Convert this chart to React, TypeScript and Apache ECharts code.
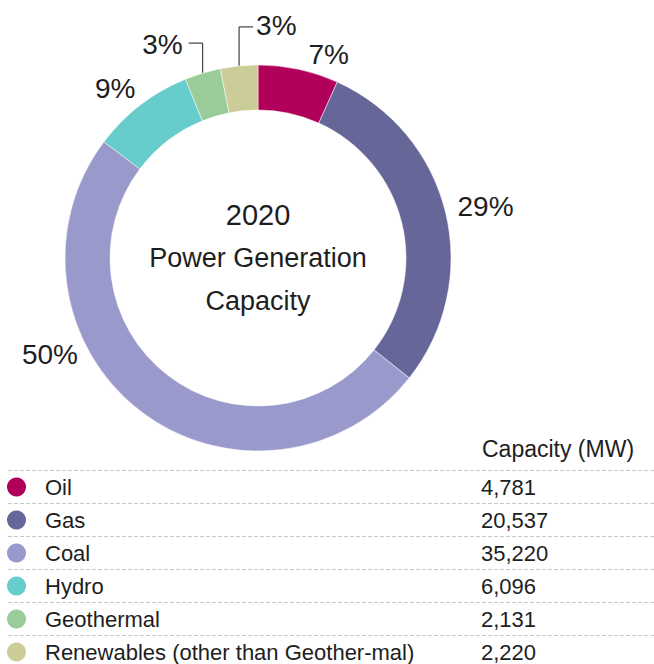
import React, { useEffect, useRef } from "react";
import * as echarts from "echarts";

// ---- data ----
const CATEGORIES = ["Oil", "Gas", "Coal", "Hydro", "Geothermal", "Renewables (other than Geother-mal)"];
const CAPACITY_MW = [4781, 20537, 35220, 6096, 2131, 2220];
const COLORS = ["#B0005A", "#666699", "#9999CC", "#66CCCC", "#99CC99", "#CCCC99"];
const CENTER_LINES = ["2020", "Power Generation", "Capacity"];
const VALUE_HEADER = "Capacity (MW)";

// ---- layout ----
const CX = 258;
const CY = 258;
const R_OUT = 193;
const R_IN = 148;
const FONT = "'Liberation Sans', Arial, sans-serif";
const TEXT = "#1e1e1e";
// label offsets relative to the outer ring point at each slice's mid angle
const LABEL_OFFSETS: { dx: number; dy: number; align: string }[] = [
  { dx: 10, dy: -15, align: "left" },
  { dx: 12, dy: -6, align: "left" },
  { dx: -62, dy: -56, align: "right" },
  { dx: -5, dy: -16, align: "right" },
  { dx: -20, dy: -29, align: "right" },
  { dx: 17, dy: -40, align: "left" },
];
const LEADER_RISE = [0, 0, 0, 0, 30, 39];
const LEADER_RUN = [0, 0, 0, 0, -14, 14];
const ROW_TOP = 470.5;
const ROW_H = 33;

function ringPoint(i: number): [number, number] {
  const total = CAPACITY_MW.reduce((a, b) => a + b, 0);
  let cum = 0;
  for (let k = 0; k < i; k++) cum += CAPACITY_MW[k];
  const mid = ((cum + CAPACITY_MW[i] / 2) / total) * Math.PI * 2;
  return [CX + R_OUT * Math.sin(mid), CY - R_OUT * Math.cos(mid)];
}

export default function App() {
  const ref = useRef<HTMLDivElement>(null);
  useEffect(() => {
    if (!ref.current) return;
    const chart = echarts.init(ref.current, undefined, { renderer: "svg" });
    const valueByName: Record<string, number> = {};
    CATEGORIES.forEach((c, i) => (valueByName[c] = CAPACITY_MW[i]));

    const graphics: any[] = [
      {
        type: "text",
        x: CX,
        y: CY,
        style: {
          text: `{a|${CENTER_LINES[0]}}\n{b|${CENTER_LINES[1]}}\n{b|${CENTER_LINES[2]}}`,
          align: "center",
          verticalAlign: "middle",
          fill: TEXT,
          fontFamily: FONT,
          rich: {
            a: { fontSize: 29, lineHeight: 43, fontFamily: FONT, fill: TEXT, align: "center" },
            b: { fontSize: 27, lineHeight: 43, fontFamily: FONT, fill: TEXT, align: "center" },
          },
        },
      },
      {
        type: "text",
        x: 482,
        y: 449,
        style: {
          text: VALUE_HEADER,
          fontSize: 23,
          fontFamily: FONT,
          fill: TEXT,
          verticalAlign: "middle",
        },
      },
    ];
    for (let k = 0; k < CATEGORIES.length; k++) {
      const y = ROW_TOP + k * ROW_H;
      graphics.push({
        type: "line",
        shape: { x1: 8, y1: y, x2: 654, y2: y },
        style: { stroke: "#c9c9c9", lineWidth: 1, lineDash: [4, 2] },
      });
    }

    chart.setOption({
      animation: false,
      color: COLORS,
      legend: {
        orient: "vertical",
        left: 7,
        top: 476,
        height: 220,
        padding: 0,
        itemWidth: 19,
        itemHeight: 19,
        itemGap: 11,
        icon: "circle",
        selectedMode: false,
        data: CATEGORIES,
        itemStyle: { borderWidth: 0 },
        formatter: (name: string) =>
          `{n|${name}}{v|${valueByName[name].toLocaleString("en-US")}}`,
        textStyle: {
          fontSize: 22,
          fontFamily: FONT,
          color: TEXT,
          rich: {
            n: { width: 436, padding: [0, 0, 0, 14], fontSize: 22, fontFamily: FONT, color: TEXT, lineHeight: 20 },
            v: { fontSize: 22, fontFamily: FONT, color: TEXT, lineHeight: 20 },
          },
        },
      },
      graphic: graphics,
      series: [
        {
          type: "pie",
          center: [CX, CY],
          radius: [R_IN, R_OUT],
          startAngle: 90,
          clockwise: true,
          avoidLabelOverlap: false,
          itemStyle: { borderColor: "#ffffff", borderWidth: 0.5 },
          label: {
            show: true,
            position: "outside",
            fontSize: 28,
            fontFamily: FONT,
            color: TEXT,
            formatter: (p: any) => `${Math.round(p.percent)}%`,
          },
          labelLine: { show: false },
          emphasis: { disabled: true },
          labelLayout: (params: any) => {
            const i = params.dataIndex;
            const [px, py] = ringPoint(i);
            const off = LABEL_OFFSETS[i];
            const res: any = {
              x: px + off.dx,
              y: py + off.dy,
              align: off.align,
              verticalAlign: "middle",
            };
            if (LEADER_RISE[i] > 0) {
              res.labelLinePoints = [
                [px, py],
                [px, py - LEADER_RISE[i]],
                [px + LEADER_RUN[i], py - LEADER_RISE[i]],
              ];
            }
            return res;
          },
          data: CATEGORIES.map((name, i) => ({
            name,
            value: CAPACITY_MW[i],
            labelLine:
              LEADER_RISE[i] > 0
                ? { show: true, lineStyle: { color: TEXT, width: 1 } }
                : { show: false },
          })),
        },
      ],
    });
    return () => chart.dispose();
  }, []);

  return (
    <div
      ref={ref}
      style={{ position: "fixed", left: 0, top: 0, width: 654, height: 664, background: "#fff" }}
    />
  );
}
